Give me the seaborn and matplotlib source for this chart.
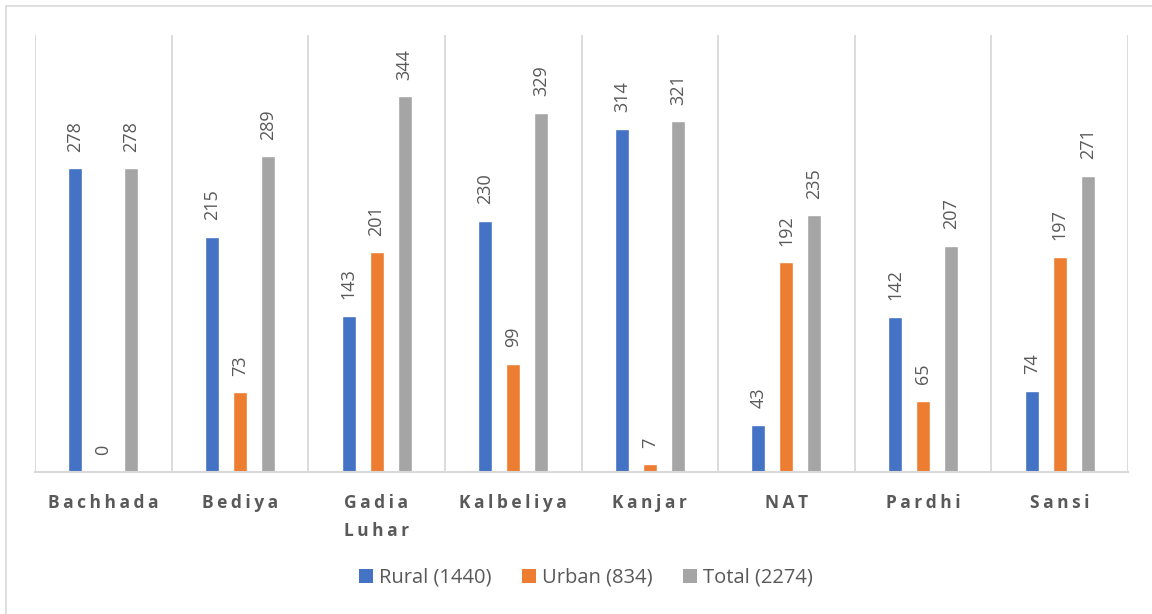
import matplotlib
matplotlib.use("Agg")
import matplotlib.pyplot as plt
import numpy as np
import pandas as pd
import seaborn as sns
from matplotlib.patches import Patch
from matplotlib.lines import Line2D

# data
categories = ["Bachhada", "Bediya", "Gadia Luhar", "Kalbeliya", "Kanjar", "NAT", "Pardhi", "Sansi"]
rural = [278, 215, 143, 230, 314, 43, 142, 74]
urban = [0, 73, 201, 99, 7, 192, 65, 197]
total = [278, 289, 344, 329, 321, 235, 207, 271]
series = ["Rural (1440)", "Urban (834)", "Total (2274)"]
colors = ["#4472C4", "#ED7D31", "#A5A5A5"]

df = pd.DataFrame({
    "cat": categories * 3,
    "series": [series[0]] * 8 + [series[1]] * 8 + [series[2]] * 8,
    "value": rural + urban + total,
})

sns.set_style("white")
plt.rcParams["font.family"] = ["Open Sans", "DejaVu Sans"]

fig = plt.figure(figsize=(11.52, 6.14), dpi=100)
ax = fig.add_axes([35 / 1152, 1 - 472 / 614, (1128 - 35) / 1152, (472 - 35) / 614])

sns.barplot(data=df, x="cat", y="value", hue="series", palette=colors,
            width=0.615, gap=0.5, ax=ax, legend=False, saturation=1)

for cont in ax.containers:
    ax.bar_label(cont, rotation=90, padding=12, fontsize=13, color="#595959")

ax.set_xlim(-0.5, 7.5)
ax.set_ylim(0, 400)
ax.set_yticks([])
ax.set_xlabel("")
ax.set_ylabel("")

# letter-spaced category labels, like the Excel original
def spaced(s):
    return "\n".join("\u2009".join(list(w)) for w in s.split(" ")) if s == "Gadia Luhar" else "\u2009".join(list(s))

ax.set_xticks(range(len(categories)))
ax.set_xticklabels([spaced(c) for c in categories], fontsize=12.5, fontweight="bold",
                   color="#595959", linespacing=1.7, va="top", multialignment="left")
ax.tick_params(axis="x", length=0, pad=16)
ax.set_xticks(np.arange(-0.5, 8, 1), minor=True)
ax.tick_params(axis="x", which="minor", length=0)
ax.grid(axis="x", which="minor", color="#D9D9D9", lw=1.3)
ax.set_axisbelow(True)

for s in ["top", "left", "right"]:
    ax.spines[s].set_visible(False)
ax.spines["bottom"].set_color("#D9D9D9")
ax.spines["bottom"].set_linewidth(1.5)

handles = [Patch(facecolor=c, edgecolor="none") for c in colors]
fig.legend(handles, series, loc="center", bbox_to_anchor=(586 / 1152, 1 - 578 / 614), ncol=3,
           frameon=False, fontsize=14.5, handlelength=0.7, handleheight=0.7,
           handletextpad=0.3, columnspacing=1.5, labelcolor="#595959")

# chart-area border (only top and left edges show in the crop)
fig.lines.append(Line2D([6 / 1152, 1], [1 - 6 / 614, 1 - 6 / 614], transform=fig.transFigure,
                        color="#D9D9D9", lw=1.2))
fig.lines.append(Line2D([6 / 1152, 6 / 1152], [0, 1 - 6 / 614], transform=fig.transFigure,
                        color="#D9D9D9", lw=1.2))

fig.savefig("out.png", dpi=100, facecolor="white")
